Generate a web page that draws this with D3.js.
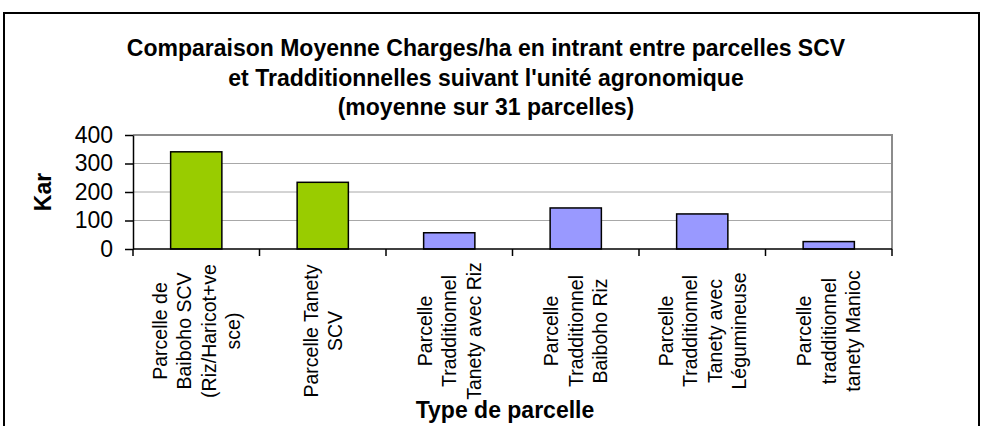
<!DOCTYPE html>
<html>
<head>
<meta charset="utf-8">
<script src="https://cdn.jsdelivr.net/npm/d3@7"></script>
<style>
  body { margin: 0; background: #fff; }
  svg { display: block; font-family: "Liberation Sans", Arial, sans-serif; }
</style>
</head>
<body>
<div id="chart"></div>
<script>
// data
const categories = [
    ["Parcelle de", "Baiboho SCV", "(Riz/Haricot+ve", "sce)"],
    ["Parcelle Tanety", "SCV"],
    ["Parcelle", "Tradditionnel", "Tanety avec Riz"],
    ["Parcelle", "Tradditionnel", "Baiboho Riz"],
    ["Parcelle", "Tradditionnel", "Tanety avec", "Légumineuse"],
    ["Parcelle", "tradditionnel", "tanety Manioc"]
];
const values = [341, 234, 57, 144, 123, 26];
const barColors = ["#99CC00", "#99CC00", "#9999FF", "#9999FF", "#9999FF", "#9999FF"];
const yTicks = [0, 100, 200, 300, 400];
const titleLines = [
    "Comparaison Moyenne Charges/ha en intrant entre parcelles SCV",
    "et Tradditionnelles suivant l'unité agronomique",
    "(moyenne sur 31 parcelles)"
];

const W = 985, H = 426;
const plot = { left: 133, right: 892, top: 135, bottom: 249 };

const svg = d3.select("#chart").append("svg")
    .attr("width", W)
    .attr("height", H);

// outer frame
svg.append("rect")
    .attr("x", 4).attr("y", 13)
    .attr("width", 975).attr("height", 440)
    .attr("fill", "#fff")
    .attr("stroke", "#000")
    .attr("stroke-width", 2);

// title
svg.append("text")
    .attr("text-anchor", "middle")
    .attr("font-weight", "bold")
    .attr("font-size", 23)
    .selectAll("tspan")
    .data(titleLines)
    .enter().append("tspan")
    .attr("x", 486)
    .attr("y", (d, i) => 56 + i * 29.5)
    .text(d => d);

const x = d3.scaleBand()
    .domain(d3.range(values.length))
    .range([plot.left, plot.right])
    .paddingInner(0)
    .paddingOuter(0);

const y = d3.scaleLinear()
    .domain([0, 400])
    .range([plot.bottom, plot.top]);

// gridlines
svg.append("g")
    .selectAll("line")
    .data(yTicks.filter(d => d > 0 && d < 400))
    .enter().append("line")
    .attr("x1", plot.left).attr("x2", plot.right)
    .attr("y1", d => y(d)).attr("y2", d => y(d))
    .attr("stroke", "#a8a8a8")
    .attr("stroke-width", 1);

// plot area top + right border
svg.append("path")
    .attr("d", `M${plot.left},${y(400)}H${plot.right}V${plot.bottom}`)
    .attr("fill", "none")
    .attr("stroke", "#8c8c8c")
    .attr("stroke-width", 2);

// bars
const barW = x.bandwidth() * 0.405;
svg.append("g")
    .selectAll("rect")
    .data(values)
    .enter().append("rect")
    .attr("x", (d, i) => x(i) + (x.bandwidth() - barW) / 2)
    .attr("y", d => y(d))
    .attr("width", barW)
    .attr("height", d => y(0) - y(d))
    .attr("fill", (d, i) => barColors[i])
    .attr("stroke", "#000")
    .attr("stroke-width", 1.5);

// y axis
const yAxis = svg.append("g")
    .attr("transform", `translate(${plot.left},0)`)
    .call(d3.axisLeft(y).tickValues(yTicks).tickSize(8).tickPadding(12).tickSizeOuter(0));
yAxis.select(".domain").attr("stroke", "#000").attr("stroke-width", 1.5);
yAxis.selectAll(".tick line").attr("stroke", "#000").attr("stroke-width", 1.5);
yAxis.selectAll(".tick text")
    .attr("font-size", 23)
    .attr("font-family", "Liberation Sans, Arial, sans-serif")
    .attr("fill", "#000");

// x axis line + boundary ticks
svg.append("line")
    .attr("x1", plot.left).attr("x2", plot.right)
    .attr("y1", plot.bottom).attr("y2", plot.bottom)
    .attr("stroke", "#000").attr("stroke-width", 1.5);

svg.append("g")
    .selectAll("line")
    .data(d3.range(values.length + 1))
    .enter().append("line")
    .attr("x1", i => i < values.length ? x(i) : plot.right)
    .attr("x2", i => i < values.length ? x(i) : plot.right)
    .attr("y1", plot.bottom).attr("y2", plot.bottom + 7)
    .attr("stroke", "#000").attr("stroke-width", 1.5);

// category labels, rotated
const catG = svg.append("g")
    .selectAll("text")
    .data(categories)
    .enter().append("text")
    .attr("transform", (d, i) => `translate(${x(i) + x.bandwidth() / 2},331) rotate(-90)`)
    .attr("text-anchor", "middle")
    .attr("font-size", 19.5)
    .attr("fill", "#000");

catG.selectAll("tspan")
    .data(d => d.map((t, j) => ({ t, j, n: d.length })))
    .enter().append("tspan")
    .attr("x", 0)
    .attr("y", d => (d.j - (d.n - 1) / 2) * 24.5)
    .attr("dominant-baseline", "central")
    .text(d => d.t);

// axis titles
svg.append("text")
    .attr("transform", "translate(51,192) rotate(-90)")
    .attr("text-anchor", "middle")
    .attr("font-weight", "bold")
    .attr("font-size", 23)
    .text("Kar");

svg.append("text")
    .attr("x", 505)
    .attr("y", 418)
    .attr("text-anchor", "middle")
    .attr("font-weight", "bold")
    .attr("font-size", 23)
    .text("Type de parcelle");
</script>
</body>
</html>
